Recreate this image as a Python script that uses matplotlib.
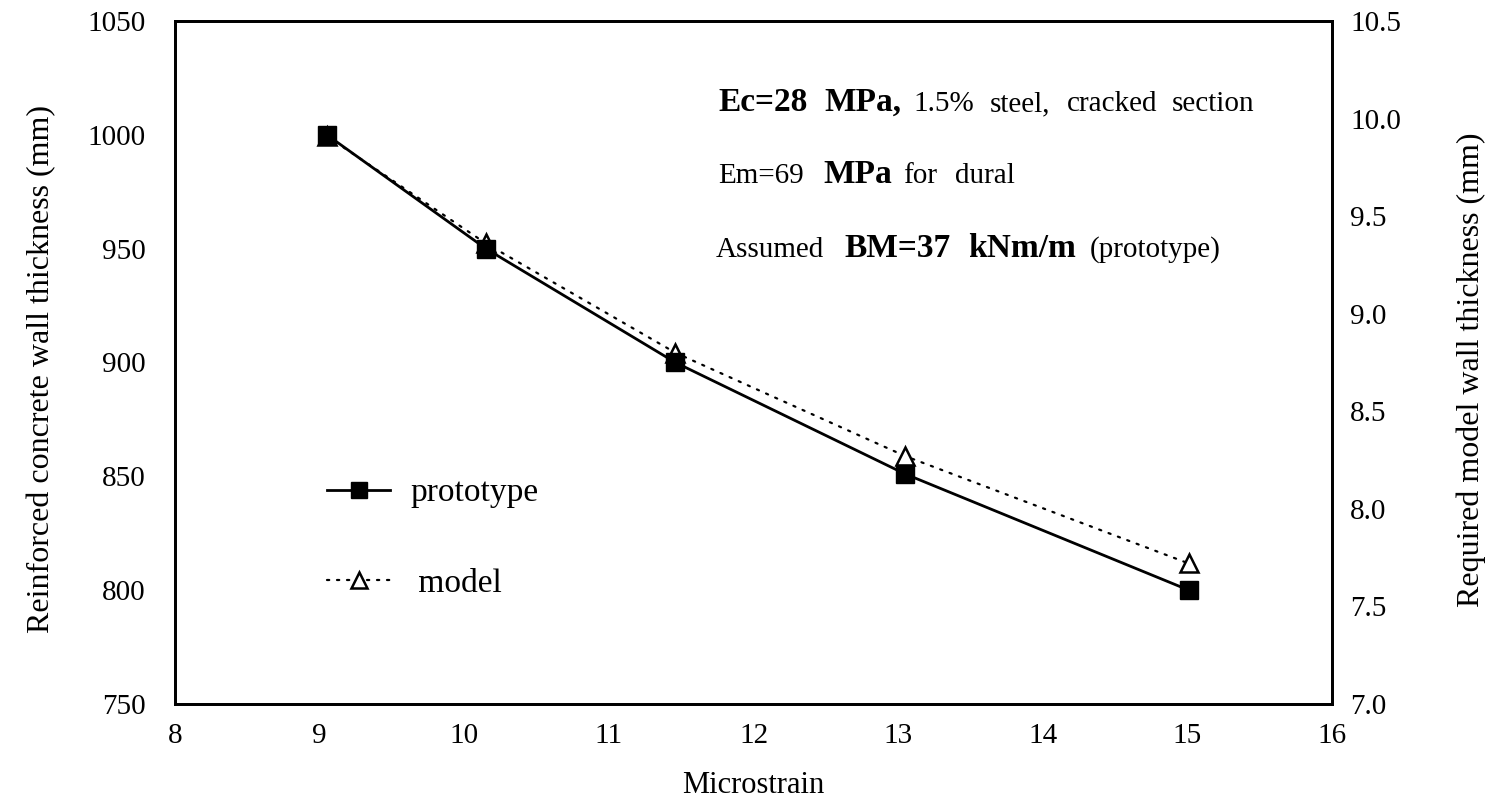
import matplotlib

matplotlib.use("Agg")
import matplotlib.pyplot as plt
from matplotlib.lines import Line2D
from matplotlib.ticker import FormatStrFormatter

plt.rcParams["font.family"] = ["Liberation Serif", "DejaVu Serif"]

# data
microstrain = [9.05, 10.15, 11.46, 13.05, 15.01]
prototype_mm = [1000, 950, 900, 851, 800]
model_mm = [9.91, 9.36, 8.8, 8.27, 7.72]

left_ticks = [750, 800, 850, 900, 950, 1000, 1050]
right_ticks = [7.0, 7.5, 8.0, 8.5, 9.0, 9.5, 10.0, 10.5]
x_ticks = [8, 9, 10, 11, 12, 13, 14, 15, 16]

W, H = 1488, 809


def fpos(x, y):
    """pixel position (from top-left) -> figure fraction"""
    return x / W, 1 - y / H


fig = plt.figure(figsize=(W / 100, H / 100), dpi=100)
ax = fig.add_axes([175 / W, 1 - 704 / H, (1332 - 175) / W, (704 - 21) / H])
ax2 = ax.twinx()

ax.plot(microstrain, prototype_mm, color="black", lw=2.0, marker="s",
        markersize=12.5, markerfacecolor="black", markeredgecolor="black")
ax2.plot(microstrain, model_mm, color="black", lw=1.6, linestyle=(0, (1, 3.5)),
         dash_capstyle="round", marker="^", markersize=12.5,
         markerfacecolor="white", markeredgecolor="black", markeredgewidth=1.8)

# squares on top of triangles
ax.set_zorder(ax2.get_zorder() + 1)
ax.patch.set_visible(False)

ax.set_xlim(8, 16)
ax.set_ylim(750, 1050)
ax2.set_ylim(7.0, 10.5)
ax.set_xticks(x_ticks)
ax.set_yticks(left_ticks)
ax2.set_yticks(right_ticks)
ax2.yaxis.set_major_formatter(FormatStrFormatter("%.1f"))

ax.tick_params(axis="both", length=0, labelsize=21)
ax.tick_params(axis="x", pad=14)
ax.tick_params(axis="y", pad=21)
ax2.tick_params(axis="y", length=0, labelsize=21, pad=13)

for a in (ax, ax2):
    for spine in a.spines.values():
        spine.set_linewidth(2.0)
        spine.set_color("black")

ax.set_xlabel("Microstrain", fontsize=22)
ax.xaxis.set_label_coords(0.5, -0.098)
ax.set_ylabel("Reinforced concrete wall thickness (mm)", fontsize=23)
ax.yaxis.set_label_coords(-0.103, 0.49)
ax2.set_ylabel("Required model wall thickness (mm)", fontsize=23)
ax2.yaxis.set_label_coords(1.108, 0.49)

# legend
handles = [
    Line2D([], [], color="black", lw=2.0, marker="s", markersize=12),
    Line2D([], [], color="black", lw=1.6, linestyle=(0, (1, 3.5)),
           dash_capstyle="round", marker="^", markersize=12,
           markerfacecolor="white", markeredgewidth=1.8),
]
ax.legend(handles, ["prototype", " model"], loc="upper left",
          bbox_to_anchor=fpos(327, 478), bbox_transform=fig.transFigure,
          frameon=False, fontsize=24, handlelength=1.9, handletextpad=0.6,
          labelspacing=1.8, borderpad=0, borderaxespad=0)

# annotation block: (text, x pixel, bold)
NORMAL, BOLD = 21, 24
lines = [
    (111, [("Ec=28", 718, True), ("MPa,", 824, True), ("1.5%", 913, False),
           ("steel,", 990, False), ("cracked", 1067, False),
           ("section", 1172, False)]),
    (183, [("Em=69", 718, False), ("MPa", 823, True), ("for", 903, False),
           ("dural", 955, False)]),
    (257, [("Assumed", 716, False), ("BM=37", 844, True), ("kNm/m", 968, True),
           ("(prototype)", 1090, False)]),
]
for y, pieces in lines:
    for txt, x, bold in pieces:
        fig.text(*fpos(x, y), txt, fontsize=BOLD if bold else NORMAL,
                 fontweight="bold" if bold else "normal",
                 ha="left", va="baseline")

fig.savefig("out.png", dpi=100, facecolor="white")
